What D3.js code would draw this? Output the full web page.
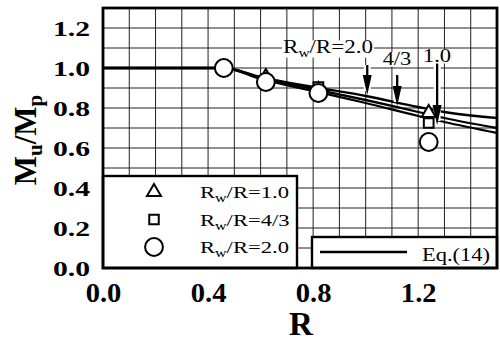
<!DOCTYPE html>
<html><head><meta charset="utf-8">
<script src="https://cdn.jsdelivr.net/npm/d3@7"></script>
<style>body{margin:0;background:#fff}svg{display:block}</style>
</head><body>
<script>
// ---- data ----
const xTicks = [0.0, 0.4, 0.8, 1.2];
const yTicks = [0.0, 0.2, 0.4, 0.6, 0.8, 1.0, 1.2];
const testR = [0.46, 0.62, 0.82, 1.24];
const triVals = [1.0, 0.955, 0.89, 0.775];   // Rw/R=1.0
const sqVals = [1.0, 0.94, 0.905, 0.725];    // Rw/R=4/3
const circVals = [1.0, 0.93, 0.875, 0.63];   // Rw/R=2.0
const curveR = [0, 0.46, 0.6, 0.8, 1.0, 1.2, 1.3, 1.5];
const eqRw2 = [1.0, 1.0, 0.955, 0.905, 0.86, 0.805, 0.78, 0.75];
const eqRw43 = [1.0, 1.0, 0.95, 0.895, 0.84, 0.78, 0.75, 0.70];
const eqRw1 = [1.0, 1.0, 0.945, 0.885, 0.825, 0.76, 0.73, 0.675];
const arrowR = [1.006, 1.12, 1.272];
const arrowTip = [0.865, 0.81, 0.715];
const arrowTop = [1.015, 0.965, 1.025];
const arrowLabels = ["2.0", "4/3", "1.0"];
const legendLabels = ["1.0", "4/3", "2.0"];

const W = 500, H = 341;
const svg = d3.select("body").append("svg").attr("width", W).attr("height", H);
const x = d3.scaleLinear().domain([0, 1.5]).range([103, 497]);
const y = d3.scaleLinear().domain([0, 1.3]).range([268, 8]);
const serif = "'Liberation Serif','Times New Roman',serif";

// place text at (px,py) with horizontal stretch
function stretchText(sel, px, py, sx) {
  sel.attr("x", 0).attr("y", 0).attr("transform", `translate(${px},${py}) scale(${sx},1)`);
  return sel;
}

// grid
const g = svg.append("g");
g.selectAll(".vg").data(d3.range(1, 15).map(i => i / 10)).join("line")
  .attr("x1", d => x(d)).attr("x2", d => x(d)).attr("y1", y(0)).attr("y2", y(1.3))
  .attr("stroke", "#222").attr("stroke-width", 1);
g.selectAll(".hg").data(d3.range(1, 13).map(i => i / 10)).join("line")
  .attr("y1", d => y(d)).attr("y2", d => y(d)).attr("x1", x(0)).attr("x2", x(1.5))
  .attr("stroke", "#222").attr("stroke-width", 1);

// axes tick labels
const xAxis = d3.axisBottom(x).tickValues(xTicks).tickFormat(d3.format(".1f")).tickSize(0).tickPadding(14);
const xa = svg.append("g").attr("transform", `translate(0,${y(0)})`).call(xAxis);
xa.select(".domain").remove();
xa.selectAll("text").attr("font-family", serif).attr("font-weight", "bold").attr("font-size", 28).attr("fill", "#000")
  .attr("dy", "0.71em").each(function () { stretchText(d3.select(this), 0, 14, 1.02); });
const yAxis = d3.axisLeft(y).tickValues(yTicks).tickFormat(d3.format(".1f")).tickSize(0).tickPadding(13);
const ya = svg.append("g").attr("transform", `translate(${x(0)},0)`).call(yAxis);
ya.select(".domain").remove();
ya.selectAll("text").attr("font-family", serif).attr("font-weight", "bold").attr("font-size", 22).attr("fill", "#000")
  .attr("dy", "0.33em").each(function () { stretchText(d3.select(this), -13, 0, 1.35); });

// axis titles
svg.append("text").attr("x", 301).attr("y", 335).attr("text-anchor", "middle")
  .attr("font-family", serif).attr("font-weight", "bold").attr("font-size", 33).text("R");
const yl = svg.append("text").attr("transform", "translate(36,140) rotate(-90)").attr("text-anchor", "middle")
  .attr("font-family", serif).attr("font-weight", "bold").attr("font-size", 31);
yl.append("tspan").text("M");
yl.append("tspan").attr("font-size", 21).attr("dy", 6).text("u");
yl.append("tspan").attr("dy", -6).text("/M");
yl.append("tspan").attr("font-size", 21).attr("dy", 6).text("p");

// curves
const line = d3.line().x(d => x(d[0])).y(d => y(d[1])).curve(d3.curveMonotoneX);
[eqRw2, eqRw43, eqRw1].forEach(vals => {
  svg.append("path").datum(curveR.map((r, i) => [r, vals[i]])).attr("d", line)
    .attr("fill", "none").attr("stroke", "#000").attr("stroke-width", 2.3);
});

// arrows
arrowR.forEach((r, i) => {
  const ax = x(r), yt = y(arrowTip[i]), y0 = y(arrowTop[i]);
  svg.append("line").attr("x1", ax).attr("x2", ax).attr("y1", y0).attr("y2", yt - 4)
    .attr("stroke", "#fff").attr("stroke-width", 7);
  svg.append("line").attr("x1", ax).attr("x2", ax).attr("y1", y0).attr("y2", yt - 12)
    .attr("stroke", "#000").attr("stroke-width", 2.3);
  svg.append("path").attr("d", `M${ax - 4.5},${yt - 20} L${ax + 4.5},${yt - 20} L${ax},${yt} Z`).attr("fill", "#000");
});

// arrow labels
function labelBg(txt) {
  const b = txt.node().getBoundingClientRect();
  svg.insert("rect", () => txt.node()).attr("x", b.x - 1).attr("y", b.y + 3).attr("width", b.width + 2).attr("height", b.height - 5).attr("fill", "#fff");
}
const t2 = svg.append("text").attr("text-anchor", "end").attr("font-family", serif).attr("font-size", 18);
t2.append("tspan").text("R");
t2.append("tspan").attr("font-size", 12).attr("dy", 4).text("w");
t2.append("tspan").attr("dy", -4).text("/R=" + arrowLabels[0]);
stretchText(t2, 373, 53, 1.28); labelBg(t2);
const t43 = svg.append("text").attr("text-anchor", "middle").attr("font-family", serif).attr("font-size", 18).text(arrowLabels[1]);
stretchText(t43, 397, 65, 1.25); labelBg(t43);
const t1 = svg.append("text").attr("text-anchor", "middle").attr("font-family", serif).attr("font-size", 18).text(arrowLabels[2]);
stretchText(t1, 437, 62, 1.25); labelBg(t1);

// markers
const sym = (type, size) => d3.symbol().type(type).size(size)();
function drawMarkers(vals, type, size) {
  svg.append("g").selectAll("path").data(testR.map((r, i) => [r, vals[i]])).join("path")
    .attr("transform", d => `translate(${x(d[0])},${y(d[1])})`)
    .attr("d", sym(type, size)).attr("fill", "#fff").attr("stroke", "#000").attr("stroke-width", 2);
}
drawMarkers(triVals, d3.symbolTriangle, 85);
drawMarkers(sqVals, d3.symbolSquare, 95);
drawMarkers(circVals, d3.symbolCircle, 250);

// legend 1
svg.append("rect").attr("x", x(0)).attr("y", 176).attr("width", 194).attr("height", y(0) - 176)
  .attr("fill", "#fff").attr("stroke", "#000").attr("stroke-width", 2.4);
const legTypes = [[d3.symbolTriangle, 85], [d3.symbolSquare, 90], [d3.symbolCircle, 250]];
legendLabels.forEach((lab, i) => {
  const cy = 192 + i * 27.5;
  svg.append("path").attr("transform", `translate(154,${cy})`).attr("d", sym(legTypes[i][0], legTypes[i][1]))
    .attr("fill", "#fff").attr("stroke", "#000").attr("stroke-width", 2);
  const t = svg.append("text").attr("font-family", serif).attr("font-size", 17);
  t.append("tspan").text("R");
  t.append("tspan").attr("font-size", 12).attr("dy", 4).text("w");
  t.append("tspan").attr("dy", -4).text("/R=" + lab);
  stretchText(t, 200, cy + 6, 1.33);
});

// legend 2
svg.append("rect").attr("x", 312).attr("y", 237).attr("width", 185).attr("height", y(0) - 237)
  .attr("fill", "#fff").attr("stroke", "#000").attr("stroke-width", 2.4);
svg.append("line").attr("x1", 320).attr("x2", 407).attr("y1", 252).attr("y2", 252).attr("stroke", "#000").attr("stroke-width", 2.3);
stretchText(svg.append("text").attr("text-anchor", "end").attr("font-family", serif).attr("font-size", 18).text("Eq.(14)"), 490, 261, 1.25);

// frame
svg.append("rect").attr("x", x(0)).attr("y", y(1.3)).attr("width", x(1.5) - x(0)).attr("height", y(0) - y(1.3))
  .attr("fill", "none").attr("stroke", "#000").attr("stroke-width", 2.8);
</script>
</body></html>
